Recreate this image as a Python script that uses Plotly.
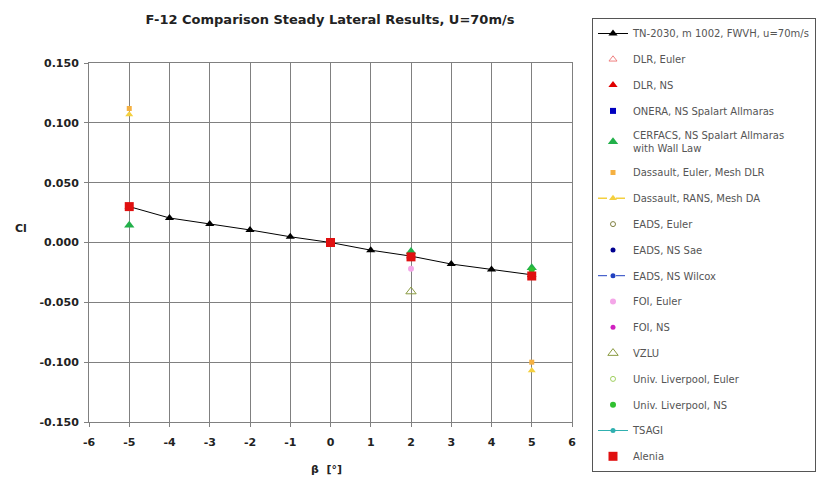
import plotly.graph_objects as go

# ---------------- data ----------------
beta_ref = [-5, -4, -3, -2, -1, 0, 1, 2, 3, 4, 5]
cl_ref = [0.030, 0.0205, 0.0155, 0.0105, 0.0048, 0.0, -0.0064, -0.0114, -0.018, -0.0225, -0.027]

beta_dlr_ns = [-5, 0, 2, 5]
cl_dlr_ns = [0.030, 0.000, -0.011, -0.027]

beta_cerfacs = [-5, 2, 5]
cl_cerfacs = [0.0145, -0.0075, -0.021]

beta_dassault_euler = [-5, 5]
cl_dassault_euler = [0.112, -0.100]

beta_dassault_rans = [-5, 5]
cl_dassault_rans = [0.107, -0.107]

beta_foi_euler = [2]
cl_foi_euler = [-0.022]

beta_vzlu = [2]
cl_vzlu = [-0.041]

beta_liv_ns = [5]
cl_liv_ns = [-0.023]

beta_alenia = [-5, 0, 2, 5]
cl_alenia = [0.030, 0.000, -0.012, -0.028]

x_ticks = list(range(-6, 7))
x_labels = [str(v) for v in x_ticks]
y_ticks = [0.15, 0.10, 0.05, 0.0, -0.05, -0.10, -0.15]
y_labels = ["0.150", "0.100", "0.050", "0.000", "-0.050", "-0.100", "-0.150"]

# ---------------- figure ----------------
fig = go.Figure()


def add(name, x, y, mode, symbol, color, size=7, line=None, break_line=False):
    if not x:
        x, y = [None], [None]
    elif break_line:
        # separate the points so that the line only shows in the legend sample
        bx, by = [], []
        for xi, yi in zip(x, y):
            bx += [xi, None]
            by += [yi, None]
        x, y = bx[:-1], by[:-1]
    m = dict(symbol=symbol, color=color, size=size)
    kw = dict(x=x, y=y, mode=mode, name=name, marker=m, legendgroup=name,
              connectgaps=False)
    if line:
        kw["line"] = line
    fig.add_trace(go.Scatter(**kw))


add("TN-2030, m 1002, FWVH, u=70m/s", beta_ref, cl_ref, "lines+markers",
    "triangle-up", "black", 8, line=dict(color="black", width=1))
add("DLR, Euler", [], [], "markers", "triangle-up-open", "#f08080", 7)
add("DLR, NS", beta_dlr_ns, cl_dlr_ns, "markers", "triangle-up", "#e00000", 8)
add("ONERA, NS Spalart Allmaras", [], [], "markers", "square", "#0000c0", 6)
add("CERFACS, NS Spalart Allmaras<br>with Wall Law", beta_cerfacs, cl_cerfacs,
    "markers", "triangle-up", "#22b04a", 9)
add("Dassault, Euler, Mesh DLR", beta_dassault_euler, cl_dassault_euler,
    "markers", "square", "#f5b041", 5)
add("Dassault, RANS, Mesh DA", beta_dassault_rans, cl_dassault_rans,
    "lines+markers", "triangle-up", "#f4d03f", 7,
    line=dict(color="#f4d03f", width=1.5, dash="dash"), break_line=True)
add("EADS, Euler", [], [], "markers", "circle-open", "#808040", 5)
add("EADS, NS Sae", [], [], "markers", "circle", "#000090", 5)
add("EADS, NS Wilcox", [], [], "lines+markers", "circle", "#2040c0", 5,
    line=dict(color="#2040c0", width=1, dash="dash"))
add("FOI, Euler", beta_foi_euler, cl_foi_euler, "markers", "circle", "#f4a6e8", 6)
add("FOI, NS", [], [], "markers", "circle", "#d020c0", 5)
add("VZLU", beta_vzlu, cl_vzlu, "markers", "triangle-up-open", "#8a9a40", 9)
add("Univ. Liverpool, Euler", [], [], "markers", "circle-open", "#a0d060", 5)
add("Univ. Liverpool, NS", beta_liv_ns, cl_liv_ns, "markers", "circle", "#30c030", 6)
add("TSAGI", [], [], "lines+markers", "circle", "#30b0b0", 5,
    line=dict(color="#30b0b0", width=1))
add("Alenia", beta_alenia, cl_alenia, "markers", "square", "#e01010", 9)

grid = "#808080"
fam = "DejaVu Sans, Liberation Sans, Arial, sans-serif"
tickfont = dict(family=fam, size=11, color="#222", weight="bold")
fig.update_layout(
    width=817, height=479,
    margin=dict(l=89, r=245, t=63, b=57, autoexpand=False),
    paper_bgcolor="white", plot_bgcolor="white",
    font=dict(family=fam, size=10, color="#333"),
    title=dict(text="<b>F-12 Comparison Steady Lateral Results, U=70m/s</b>",
               x=330 / 817, xanchor="center", y=1 - 19 / 479, yanchor="middle",
               font=dict(family=fam, size=13, color="#222")),
    xaxis=dict(range=[-6, 6], tickvals=x_ticks, ticktext=x_labels, showgrid=True,
               gridcolor=grid, gridwidth=1, zeroline=False, showline=True, linecolor=grid,
               mirror=True, ticks="outside", ticklen=4, tickcolor=grid, tickfont=tickfont,
               ticklabelstandoff=6),
    yaxis=dict(range=[-0.15, 0.15], tickvals=y_ticks, ticktext=y_labels, showgrid=True,
               gridcolor=grid, gridwidth=1, zeroline=False, showline=True, linecolor=grid,
               mirror=True, ticks="outside", ticklen=4, tickcolor=grid, tickfont=tickfont,
               ticklabelstandoff=3),
    annotations=[
        dict(text="<b>Cl</b>", xref="paper", yref="paper", x=(21 - 89) / 483, y=(422 - 228) / 359,
             showarrow=False, xanchor="center", yanchor="middle",
             font=dict(family=fam, size=11, color="#222")),
        dict(text="<b>β  [°]</b>", xref="paper", yref="paper", x=(326 - 89) / 483,
             y=(422 - 469) / 359, showarrow=False, xanchor="center", yanchor="middle",
             font=dict(family=fam, size=11, color="#222")),
    ],
    showlegend=True,
    legend=dict(x=(592 - 89) / 483, xanchor="left", y=(422 - 18) / 359, yanchor="top",
                bgcolor="white", bordercolor="#555", borderwidth=1, maxheight=470,
                font=dict(family=fam, size=10, color="#555"), tracegroupgap=6.8,
                traceorder="grouped", itemwidth=30),
)

fig.write_html("out.html")
